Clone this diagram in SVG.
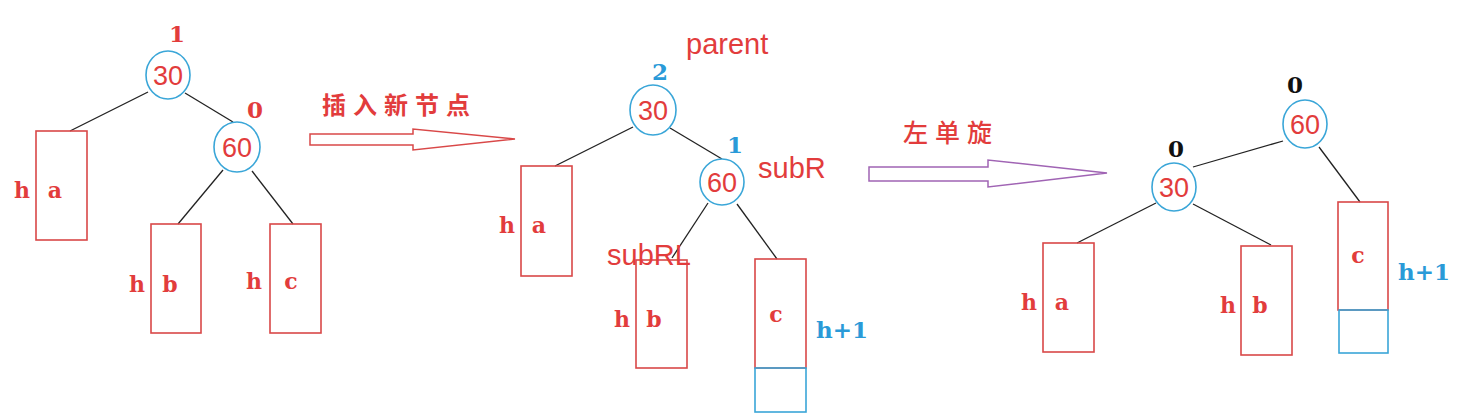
<svg xmlns="http://www.w3.org/2000/svg" width="1484" height="420" viewBox="0 0 1484 420">
<style>
.box{fill:none;stroke:#d94848;stroke-width:1.6}
.bbox{fill:none;stroke:#3aa6d8;stroke-width:1.6}
.node{fill:#fff;stroke:#3aa6d8;stroke-width:1.6}
.edge{stroke:#222;stroke-width:1.3;fill:none}
.lab{font-family:"DejaVu Serif","Liberation Serif",serif;font-weight:bold;font-size:22px;fill:#e23c3c;text-anchor:middle}
.num{font-family:"Liberation Sans",sans-serif;font-size:27px;fill:#e23c3c;text-anchor:middle}
.name{font-family:"Liberation Sans",sans-serif;font-size:29px;fill:#e23c3c}
.bal{font-family:"DejaVu Serif","Liberation Serif",serif;font-weight:bold;font-size:23px;text-anchor:middle}
.blue{fill:#2a9ad8}
.red{fill:#e23c3c}
.black{fill:#111}
.cn{font-family:"Noto Sans CJK SC",sans-serif;font-size:24px;fill:#e23c3c;letter-spacing:7px}
</style>
<rect width="1484" height="420" fill="#fff"/>
<g id="connectors">
<line class="edge" x1="148" y1="92" x2="70" y2="131"/>
<line class="edge" x1="185" y1="93" x2="233" y2="122"/>
<line class="edge" x1="223" y1="170" x2="178" y2="224"/>
<line class="edge" x1="252" y1="171" x2="293" y2="224"/>
<line class="edge" x1="633" y1="127" x2="555" y2="166"/>
<line class="edge" x1="670" y1="128" x2="722" y2="159"/>
<line class="edge" x1="708" y1="203" x2="672" y2="258"/>
<line class="edge" x1="737" y1="204" x2="777" y2="259"/>
<line class="edge" x1="1283" y1="141" x2="1193" y2="167"/>
<line class="edge" x1="1319" y1="147" x2="1360" y2="202"/>
<line class="edge" x1="1156" y1="203" x2="1077" y2="243"/>
<line class="edge" x1="1193" y1="204" x2="1271" y2="245"/>
</g>
<g id="arrow-insert">
<polygon points="310,134 413,134 413,129 515,139 413,150 413,145 310,145" fill="#fff" stroke="#d94848" stroke-width="1.5"/>
<text class="cn" x="322" y="114" font-weight="bold">插入新节点</text>
</g>
<g id="arrow-rotate">
<polygon points="869,167 988,167 988,160 1107,173 988,187 988,181 869,181" fill="#fff" stroke="#a064b4" stroke-width="1.5"/>
<text class="cn" x="903" y="142" style="font-size:25px;font-weight:500">左单旋</text>
</g>
<g id="left-tree">
<g id="l-n30"><ellipse class="node" cx="168" cy="75" rx="22" ry="24"/><text class="num" x="168" y="85">30</text><text class="bal red" x="177" y="42">1</text></g>
<g id="l-n60"><ellipse class="node" cx="237" cy="147" rx="23" ry="25"/><text class="num" x="237" y="157">60</text><text class="bal red" x="255" y="118">0</text></g>
<g id="l-a"><rect class="box" x="36" y="131" width="51" height="109"/><text class="lab" x="22" y="198">h</text><text class="lab" x="55" y="198">a</text></g>
<g id="l-b"><rect class="box" x="151" y="224" width="50" height="109"/><text class="lab" x="137" y="292">h</text><text class="lab" x="170" y="292">b</text></g>
<g id="l-c"><rect class="box" x="270" y="224" width="51" height="109"/><text class="lab" x="254" y="289">h</text><text class="lab" x="291" y="289">c</text></g>
</g>
<g id="middle-tree">
<g id="m-n30"><ellipse class="node" cx="653" cy="110" rx="23" ry="25"/><text class="num" x="653" y="120">30</text><text class="bal blue" x="660" y="80">2</text><text class="name" x="686" y="54">parent</text></g>
<g id="m-n60"><ellipse class="node" cx="722" cy="182" rx="22" ry="23"/><text class="num" x="722" y="192">60</text><text class="bal blue" x="735" y="153">1</text><text class="name" x="758" y="178">subR</text></g>
<g id="m-a"><rect class="box" x="521" y="166" width="51" height="110"/><text class="lab" x="507" y="233">h</text><text class="lab" x="539" y="233">a</text></g>
<g id="m-b"><rect class="box" x="636" y="260" width="51" height="108"/><text class="lab" x="622" y="327">h</text><text class="lab" x="654" y="327">b</text><text class="name" x="607" y="265">subRL</text></g>
<g id="m-c"><rect class="box" x="755" y="259" width="51" height="109"/><rect class="bbox" x="755" y="368" width="51" height="44"/><text class="lab" x="776" y="322">c</text><text class="bal blue" x="842" y="338">h+1</text></g>
</g>
<g id="right-tree">
<g id="r-n60"><ellipse class="node" cx="1305" cy="124" rx="22" ry="24"/><text class="num" x="1305" y="134">60</text><text class="bal black" x="1295" y="93">0</text></g>
<g id="r-n30"><ellipse class="node" cx="1174" cy="187" rx="22" ry="24"/><text class="num" x="1174" y="197">30</text><text class="bal black" x="1176" y="157">0</text></g>
<g id="r-a"><rect class="box" x="1043" y="243" width="51" height="109"/><text class="lab" x="1029" y="310">h</text><text class="lab" x="1062" y="310">a</text></g>
<g id="r-b"><rect class="box" x="1241" y="246" width="51" height="109"/><text class="lab" x="1228" y="313">h</text><text class="lab" x="1260" y="313">b</text></g>
<g id="r-c"><rect class="box" x="1338" y="202" width="50" height="108"/><rect class="bbox" x="1339" y="310" width="49" height="43"/><text class="lab" x="1358" y="263">c</text><text class="bal blue" x="1424" y="280">h+1</text></g>
</g>
</svg>
